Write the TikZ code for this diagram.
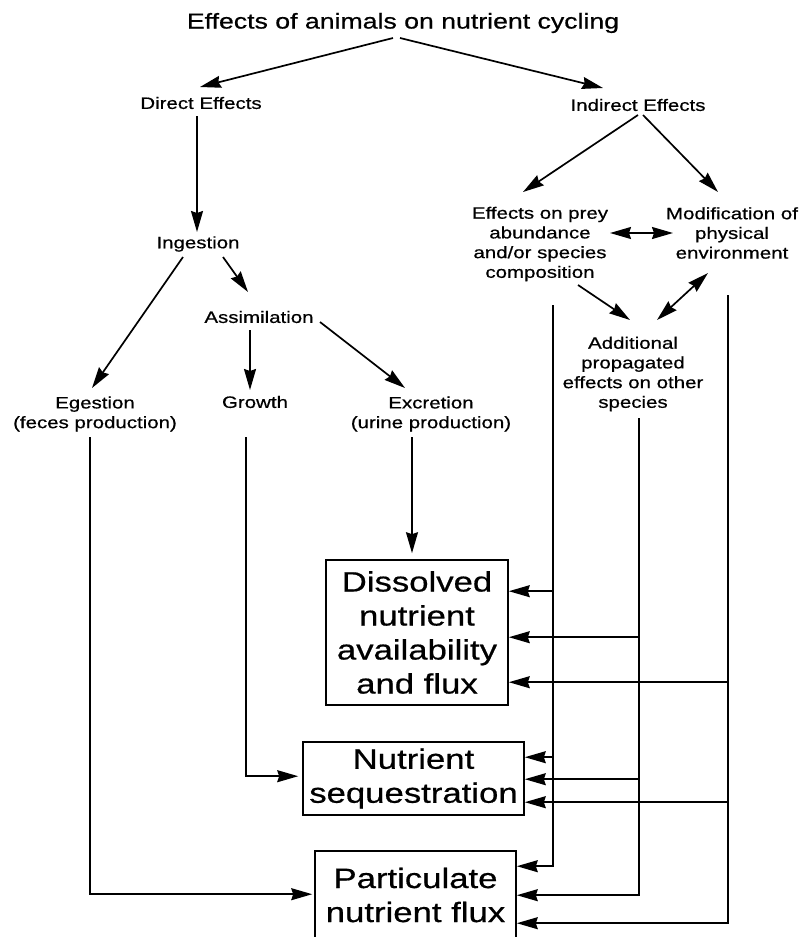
\documentclass[tikz,border=0pt]{standalone}
\usepackage{fontspec}
\setmainfont{Liberation Sans}[FakeStretch=1.24,FakeBold=0.6]
\usetikzlibrary{arrows.meta}
\begin{document}
\begin{tikzpicture}[x=1pt,y=-1pt,
  lab/.style={align=center,inner sep=0pt,font=\fontsize{16.5}{19.7}\selectfont},
  bigbox/.style={draw,line width=1.6pt,align=center,inner sep=0pt,font=\fontsize{28}{34}\selectfont},
  arr/.style={line width=1.7pt,-{Stealth[length=21pt,width=12pt,inset=2pt]}},
  dbl/.style={line width=1.7pt,{Stealth[length=21pt,width=12pt,inset=2pt]}-{Stealth[length=21pt,width=12pt,inset=2pt]}}]
\useasboundingbox (0,0) rectangle (802,937);
\fill[white] (0,0) rectangle (802,937);
\clip (0,0) rectangle (802,937);

% text nodes
\node[inner sep=0pt,font=\fontsize{21.5}{25}\selectfont] (title) at (403,23) {Effects of animals on nutrient cycling};
\node[lab] (direct) at (201,103) {Direct Effects};
\node[lab] (indirect) at (638,105) {Indirect Effects};
\node[lab] (ing) at (198,244) {Ingestion};
\node[lab] (assim) at (259,317) {Assimilation};
\node[lab] (eg) at (95,414) {Egestion\\(feces production)};
\node[lab] (growth) at (255,402) {Growth};
\node[lab] (exc) at (431,414) {Excretion\\(urine production)};
\node[lab] (prey) at (540,244) {Effects on prey\\abundance\\and/or species\\composition};
\node[lab] (modif) at (732,233) {Modification of\\physical\\environment};
\node[lab] (add) at (633,374) {Additional\\propagated\\effects on other\\species};

% boxes
\node[bigbox,minimum width=182pt,minimum height=145pt] (diss) at (417,632.5) {Dissolved\\nutrient\\availability\\and flux};
\node[bigbox,minimum width=221pt,minimum height=73pt] (seq) at (413.5,778.5) {Nutrient\\sequestration};
\node[bigbox,minimum width=201pt,minimum height=88pt] (part) at (415.5,895) {Particulate\\nutrient flux};

% upper tree
\draw[arr] ([shift={(-10,15)}]title.center) -- ([shift={(-1,-16)}]direct.center);
\draw[arr] ([shift={(-3,15)}]title.center) -- ([shift={(-35,-17)}]indirect.center);
\draw[arr] ([shift={(-4,13)}]direct.center) -- ([shift={(-1,-12)}]ing.center);
\draw[arr] ([shift={(-15,13)}]ing.center) -- ([shift={(-3,-26)}]eg.center);
\draw[arr] ([shift={(25,13)}]ing.center) -- ([shift={(-11,-25)}]assim.center);
\draw[arr] ([shift={(-9,13)}]assim.center) -- ([shift={(-5,-12)}]growth.center);
\draw[arr] ([shift={(61,5)}]assim.center) -- ([shift={(-26,-26)}]exc.center);
\draw[arr] ([shift={(0,10)}]indirect.center) -- ([shift={(-17,-52)}]prey.center);
\draw[arr] ([shift={(5,10)}]indirect.center) -- ([shift={(-14,-41)}]modif.center);
\draw[dbl] ([shift={(70,-11)}]prey.center) -- ([shift={(-59,0)}]modif.center);
\draw[arr] ([shift={(38,41)}]prey.center) -- ([shift={(-3,-54)}]add.center);
\draw[dbl] ([shift={(-24,40)}]modif.center) -- ([shift={(24,-54)}]add.center);

% direct effects to boxes
\draw[arr] ([shift={(-19,23)}]exc.center) -- ([shift={(-5,-6)}]diss.north);
\draw[arr] ([shift={(-9,35)}]growth.center) |- ([shift={(-4,35)}]seq.north west);
\draw[arr] ([shift={(-5,23)}]eg.center) |- ([shift={(-2,44)}]part.north west);

% indirect effects to boxes
\coordinate (v1) at ([shift={(13,61)}]prey.center);
\coordinate (v2) at ([shift={(6,44)}]add.center);
\coordinate (v3) at ([shift={(-4,62)}]modif.center);
\coordinate (d1) at ([shift={(0,32)}]diss.north east);
\coordinate (d2) at ([shift={(0,78)}]diss.north east);
\coordinate (d3) at ([shift={(0,123)}]diss.north east);
\coordinate (s1) at ([shift={(0,16)}]seq.north east);
\coordinate (s2) at ([shift={(0,38)}]seq.north east);
\coordinate (s3) at ([shift={(0,61)}]seq.north east);
\coordinate (p1) at ([shift={(0,16)}]part.north east);
\coordinate (p2) at ([shift={(0,45)}]part.north east);
\coordinate (p3) at ([shift={(0,73)}]part.north east);

\draw[arr] (v1) |- (p1);
\draw[arr] (v1 |- d1) -- (d1);
\draw[arr] (v1 |- s1) -- (s1);
\draw[arr] (v2) |- (p2);
\draw[arr] (v2 |- d2) -- (d2);
\draw[arr] (v2 |- s2) -- (s2);
\draw[arr] (v3) |- (p3);
\draw[arr] (v3 |- d3) -- (d3);
\draw[arr] (v3 |- s3) -- (s3);
\end{tikzpicture}
\end{document}
